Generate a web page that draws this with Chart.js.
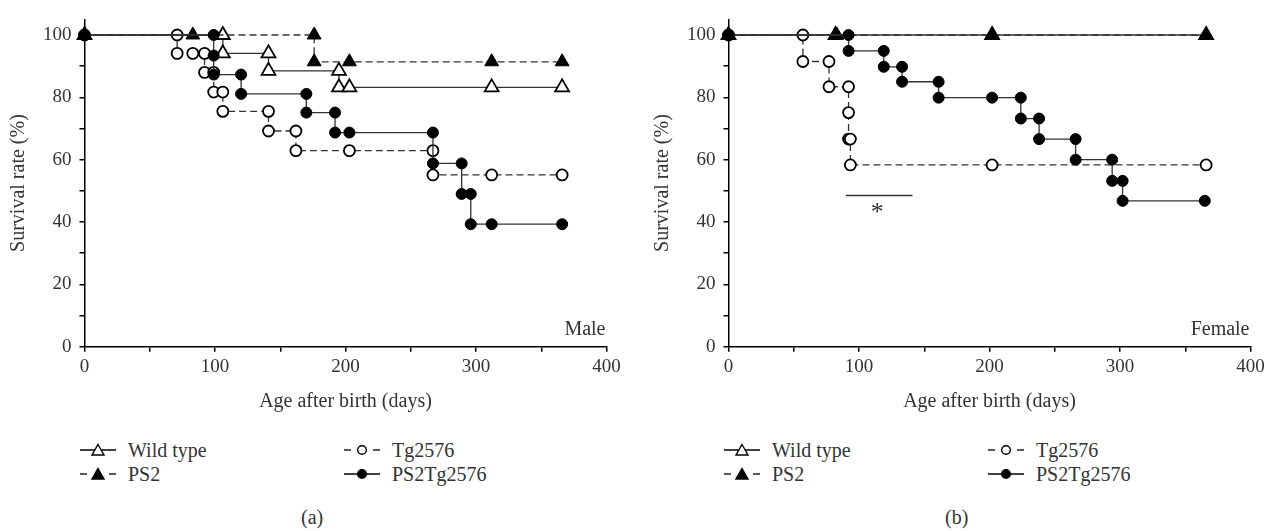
<!DOCTYPE html>
<html>
<head>
<meta charset="utf-8">
<script src="https://cdn.jsdelivr.net/npm/chart.js@4/dist/chart.umd.min.js"></script>
<style>
  body { margin: 0; background: #fff; }
  #wrap { position: relative; width: 1276px; height: 531px; font-family: "Liberation Serif", serif; color: #333; }
  .pane { position: absolute; top: 0; }
  .txt { position: absolute; height: 24px; line-height: 24px; font-size: 20px; white-space: nowrap; }
  .sym { position: absolute; }
</style>
</head>
<body>
<div id="wrap">
  <div class="pane" style="left:0px"><canvas id="graficoA" width="632" height="420"></canvas></div>
  <div class="pane" style="left:644px"><canvas id="graficoB" width="632" height="420"></canvas></div>
</div>
<script>
// --- dados (dias, sobrevivência %) ---
const seriesNames = ['Wild type', 'PS2', 'Tg2576', 'PS2Tg2576']
const xTicks = [0, 100, 200, 300, 400]
const yTicks = [0, 20, 40, 60, 80, 100]

// (a) Male
const maleWildDays = [0, 106, 106, 141, 141, 195, 195, 203, 312, 366]
const maleWildRate = [100, 100, 94.1, 94.1, 88.5, 88.5, 83.2, 83.2, 83.2, 83.2]
const malePs2Days = [0, 83, 176, 176, 203, 312, 366]
const malePs2Rate = [100, 100, 100, 91.4, 91.4, 91.4, 91.4]
const maleTgDays = [0, 71, 71, 83, 92, 92, 99, 99, 106, 106, 141, 141, 162, 162, 203, 267, 267, 312, 366]
const maleTgRate = [100, 100, 94.1, 94.1, 94.1, 88.0, 88.0, 81.7, 81.7, 75.5, 75.5, 69.2, 69.2, 62.9, 62.9, 62.9, 55.1, 55.1, 55.1]
const malePs2TgDays = [0, 99, 99, 99, 120, 120, 170, 170, 192, 192, 203, 267, 267, 289, 289, 296, 296, 312, 366]
const malePs2TgRate = [100, 100, 93.4, 87.3, 87.3, 81.1, 81.1, 75.1, 75.1, 68.7, 68.7, 68.7, 58.8, 58.8, 49, 49, 39.3, 39.3, 39.3]

// (b) Female
const femWildDays = [0, 82, 202, 366]
const femWildRate = [100, 100, 100, 100]
const femPs2Days = [0, 83, 202, 366]
const femPs2Rate = [100, 100, 100, 100]
const femTgDays = [0, 57, 57, 77, 77, 92, 92, 92, 93.4, 93.4, 202, 366]
const femTgRate = [100, 100, 91.5, 91.5, 83.4, 83.4, 75.1, 66.6, 66.6, 58.3, 58.3, 58.3]
const femPs2TgDays = [0, 92, 92, 119, 119, 133, 133, 161, 161, 202, 224, 224, 238, 238, 266, 266, 294, 294, 302, 302, 365]
const femPs2TgRate = [100, 100, 94.9, 94.9, 89.8, 89.8, 85, 85, 79.9, 79.9, 79.9, 73.2, 73.2, 66.6, 66.6, 60, 60, 53.2, 53.2, 46.8, 46.8]

// barra de significância e asterisco (b)
const sigBarDays = [90, 141]
const sigBarRate = [48.5, 48.5]
const starPos = [114, 44.8]

function pts(days, rate) {
    return days.map((d, i) => ({x: d, y: rate[i]}))
}

// estilo de cada série: [pointStyle, preenchido, tracejado]
const estilos = {
    'Wild type': ['triangle', false, false],
    'PS2': ['triangle', true, true],
    'Tg2576': ['circle', false, true],
    'PS2Tg2576': ['circle', true, false]
}

const familia = '"Liberation Serif", serif'

function serie(nome, days, rate) {
    const [forma, cheio, tracejado] = estilos[nome]
    return {
        label: nome,
        data: pts(days, rate),
        showLine: true,
        borderColor: '#333',
        borderWidth: 1.3,
        borderDash: tracejado ? [7, 4] : [],
        pointStyle: forma,
        pointRadius: forma === 'triangle' ? 8 : 5.5,
        pointBackgroundColor: cheio ? '#000' : '#fff',
        pointBorderColor: '#000',
        pointBorderWidth: cheio ? 1 : 1.8,
        clip: false
    }
}

const textoPainel = {
    id: 'textoPainel',
    afterDatasetsDraw(chart, args, opts) {
        const {ctx, chartArea, scales} = chart
        ctx.save()
        ctx.fillStyle = '#333'
        ctx.font = '20px ' + familia
        ctx.textAlign = 'right'
        ctx.textBaseline = 'alphabetic'
        ctx.fillText(opts.label, chartArea.right - 1, chartArea.bottom - 12)
        if (opts.star) {
            ctx.font = '26px ' + familia
            ctx.textAlign = 'center'
            ctx.fillText('*', scales.x.getPixelForValue(opts.star[0]), scales.y.getPixelForValue(opts.star[1]) + 13)
        }
        ctx.restore()
    }
}

function criarGrafico(id, datasets, label, star) {
    const fonte = {family: familia, size: 19}
    return new Chart(document.getElementById(id), {
        type: 'scatter',
        data: {datasets: datasets},
        options: {
            responsive: false,
            animation: false,
            layout: {autoPadding: false, padding: {left: 0, top: 2.6, right: 25.5, bottom: 0}},
            plugins: {
                legend: {display: false},
                tooltip: {enabled: false},
                textoPainel: {label: label, star: star}
            },
            scales: {
                x: {
                    type: 'linear', min: 0, max: 400,
                    afterFit: s => { s.height = 73.3 },
                    border: {color: '#000', width: 1.5},
                    grid: {drawOnChartArea: false, drawTicks: true, tickLength: 5, color: '#000', lineWidth: 1.5},
                    ticks: {
                        stepSize: 50, padding: 4, color: '#333', font: fonte, maxRotation: 0, autoSkip: false,
                        callback: v => xTicks.includes(v) ? v : ''
                    },
                    title: {display: true, text: 'Age after birth (days)', color: '#333',
                        font: {family: familia, size: 20}, padding: {top: 0, bottom: 6.6}}
                },
                y: {
                    type: 'linear', min: 0, max: 105,
                    afterFit: s => { s.width = 84.5 },
                    border: {color: '#000', width: 1.5},
                    grid: {drawOnChartArea: false, drawTicks: true, tickLength: 5, color: '#000', lineWidth: 1.5},
                    ticks: {
                        stepSize: 10, includeBounds: false, padding: 8, color: '#333', font: fonte, autoSkip: false,
                        callback: v => yTicks.includes(v) ? v : ''
                    },
                    title: {display: true, text: 'Survival rate (%)', color: '#333',
                        font: {family: familia, size: 20}, padding: {top: 6.6, bottom: 0}}
                }
            }
        },
        plugins: [textoPainel]
    })
}

criarGrafico('graficoA', [
    serie('PS2Tg2576', malePs2TgDays, malePs2TgRate),
    serie('PS2', malePs2Days, malePs2Rate),
    serie('Wild type', maleWildDays, maleWildRate),
    serie('Tg2576', maleTgDays, maleTgRate)
], 'Male', null)

const barra = {
    label: 'sig', data: pts(sigBarDays, sigBarRate), showLine: true,
    borderColor: '#333', borderWidth: 1.3, pointRadius: 0, clip: false
}

criarGrafico('graficoB', [
    serie('PS2Tg2576', femPs2TgDays, femPs2TgRate),
    serie('PS2', femPs2Days, femPs2Rate),
    serie('Wild type', femWildDays, femWildRate),
    serie('Tg2576', femTgDays, femTgRate),
    barra
], 'Female', starPos)

// legenda em HTML com símbolos SVG
const wrap = document.getElementById('wrap')
const posLegenda = [[0, 0], [0, 1], [1, 0], [1, 1]]  // [coluna, linha] por série
function simbolo(nome) {
    const [forma, cheio, tracejado] = estilos[nome]
    let linha = tracejado
        ? '<line x1="0" y1="8" x2="7" y2="8" stroke="#000" stroke-width="1.3"/><line x1="29" y1="8" x2="36" y2="8" stroke="#000" stroke-width="1.3"/>'
        : '<line x1="0" y1="8" x2="36" y2="8" stroke="#000" stroke-width="1.3"/>'
    const fill = cheio ? '#000' : '#fff'
    const marca = forma === 'triangle'
        ? `<polygon points="18,2.5 24,13 12,13" fill="${fill}" stroke="#000" stroke-width="1.4"/>`
        : `<circle cx="18" cy="8" r="4.3" fill="${fill}" stroke="#000" stroke-width="1.4"/>`
    return `<svg width="36" height="16">${linha}${marca}</svg>`
}
;[0, 644].forEach((ox, p) => {
    seriesNames.forEach((nome, i) => {
        const [col, row] = posLegenda[i]
        const cy = row === 0 ? 450 : 474
        const s = document.createElement('div')
        s.className = 'sym'
        s.style.left = (ox + 80 + col * 264) + 'px'
        s.style.top = (cy - 8) + 'px'
        s.innerHTML = simbolo(nome)
        wrap.appendChild(s)
        const t = document.createElement('div')
        t.className = 'txt'
        t.style.left = (ox + 128 + col * 264) + 'px'
        t.style.top = (cy - 12) + 'px'
        t.textContent = nome
        wrap.appendChild(t)
    })
    const lab = document.createElement('div')
    lab.className = 'txt'
    lab.style.left = (ox + 301) + 'px'
    lab.style.top = '505px'
    lab.textContent = p === 0 ? '(a)' : '(b)'
    wrap.appendChild(lab)
})
</script>
</body>
</html>
